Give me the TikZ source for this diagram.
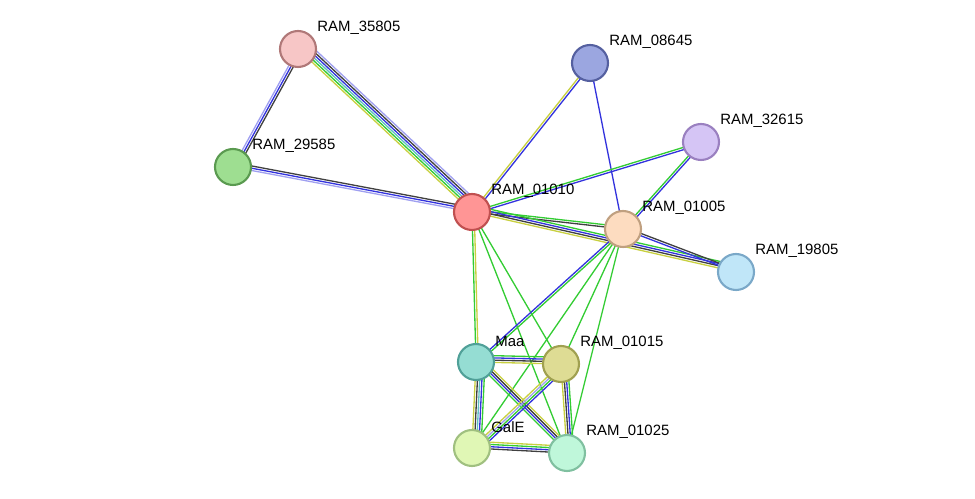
\documentclass[tikz,border=0pt]{standalone}
\usepackage{fontspec}
\setmainfont{Liberation Sans}
\usetikzlibrary{calc}
\definecolor{cBlk}{HTML}{404040}
\definecolor{cBlu}{HTML}{3333DD}
\definecolor{cGrn}{HTML}{33CC33}
\definecolor{cYel}{HTML}{C8D040}
\definecolor{cLav}{HTML}{A0A0F0}
\definecolor{cTea}{HTML}{60C0C0}
\tikzset{prot/.style={circle, minimum size=0.72cm, inner sep=0pt, line width=1.2pt},
  lbl/.style={anchor=west, inner sep=0pt, font=\fontsize{8.5}{10}\selectfont}}
% parallel lines between two nodes, one per colour
\newcommand\links[3]{%
  \foreach \col [count=\k] in {#3} {
    \pgfmathsetmacro\off{0.045*(\k-1)}
    \draw[\col, line width=0.75pt] ($(#1)!\off cm!90:(#2)$) -- ($(#2)!\off cm!-90:(#1)$);
  }}
\begin{document}
\begin{tikzpicture}[x=0.02cm, y=-0.02cm]
  \useasboundingbox (0,0) rectangle (975,499);

  \coordinate (p35805) at (298,49);
  \coordinate (p08645) at (590,63);
  \coordinate (p32615) at (701,142);
  \coordinate (p29585) at (233,167);
  \coordinate (p01010) at (472,212);
  \coordinate (p01005) at (623,229);
  \coordinate (p19805) at (736,272);
  \coordinate (pMaa) at (476,362);
  \coordinate (p01015) at (561,364);
  \coordinate (pGalE) at (472,448);
  \coordinate (p01025) at (567,453);

  % edges
  \links{p35805}{p29585}{cLav,cBlu,cBlk}
  \links{p35805}{p01010}{cYel,cGrn,cTea,cBlu,cBlk,cLav}
  \links{p29585}{p01010}{cLav,cBlu,cBlk}
  \links{p08645}{p01010}{cYel,cBlu}
  \links{p08645}{p01005}{cBlu}
  \links{p32615}{p01010}{cGrn,cBlu}
  \links{p32615}{p01005}{cGrn,cBlu}
  \links{p01010}{p01005}{cBlk,cGrn}
  \links{p01010}{p19805}{cYel,cBlk,cBlu,cGrn}
  \links{p01005}{p19805}{cBlu,cBlk}
  \links{p01010}{pMaa}{cGrn,cYel}
  \links{p01010}{p01015}{cGrn}
  \links{p01010}{p01025}{cGrn}
  \links{p01005}{pMaa}{cBlu,cGrn}
  \links{p01005}{p01015}{cGrn}
  \links{p01005}{pGalE}{cGrn}
  \links{p01005}{p01025}{cGrn}
  \links{pMaa}{p01015}{cYel,cBlk,cBlu,cGrn}
  \links{pMaa}{pGalE}{cYel,cBlk,cTea,cBlu,cGrn}
  \links{pMaa}{p01025}{cGrn,cBlu,cBlk,cYel}
  \links{p01015}{pGalE}{cYel,cLav,cGrn,cBlu}
  \links{p01015}{p01025}{cYel,cBlk,cBlu,cGrn}
  \links{pGalE}{p01025}{cBlk,cBlu,cGrn,cYel}

  % proteins
  \node[prot, fill={rgb,255:red,247;green,198;blue,198}, draw={rgb,255:red,176;green,120;blue,120}] (n35805) at (p35805) {};
  \node[prot, fill={rgb,255:red,155;green,166;blue,224}, draw={rgb,255:red,85;green,96;blue,160}] (n08645) at (p08645) {};
  \node[prot, fill={rgb,255:red,213;green,197;blue,245}, draw={rgb,255:red,154;green,128;blue,192}] (n32615) at (p32615) {};
  \node[prot, fill={rgb,255:red,158;green,222;blue,145}, draw={rgb,255:red,90;green,154;blue,80}] (n29585) at (p29585) {};
  \node[prot, fill={rgb,255:red,255;green,149;blue,149}, draw={rgb,255:red,192;green,80;blue,80}] (n01010) at (p01010) {};
  \node[prot, fill={rgb,255:red,253;green,220;blue,192}, draw={rgb,255:red,192;green,160;blue,128}] (n01005) at (p01005) {};
  \node[prot, fill={rgb,255:red,192;green,230;blue,248}, draw={rgb,255:red,122;green,168;blue,200}] (n19805) at (p19805) {};
  \node[prot, fill={rgb,255:red,149;green,221;blue,211}, draw={rgb,255:red,80;green,160;blue,152}] (nMaa) at (pMaa) {};
  \node[prot, fill={rgb,255:red,222;green,220;blue,148}, draw={rgb,255:red,160;green,160;blue,80}] (n01015) at (p01015) {};
  \node[prot, fill={rgb,255:red,224;green,247;blue,181}, draw={rgb,255:red,160;green,192;blue,128}] (nGalE) at (pGalE) {};
  \node[prot, fill={rgb,255:red,191;green,247;blue,218}, draw={rgb,255:red,128;green,192;blue,160}] (n01025) at (p01025) {};

  % labels
  \node[lbl] (l35805) at ($(p35805)+(19,-21)$) {RAM\_35805};
  \node[lbl] (l08645) at ($(p08645)+(19,-21)$) {RAM\_08645};
  \node[lbl] (l32615) at ($(p32615)+(19,-21)$) {RAM\_32615};
  \node[lbl] (l29585) at ($(p29585)+(19,-21)$) {RAM\_29585};
  \node[lbl] (l01010) at ($(p01010)+(19,-21)$) {RAM\_01010};
  \node[lbl] (l01005) at ($(p01005)+(19,-21)$) {RAM\_01005};
  \node[lbl] (l19805) at ($(p19805)+(19,-21)$) {RAM\_19805};
  \node[lbl] (lMaa) at ($(pMaa)+(19,-21)$) {Maa};
  \node[lbl] (l01015) at ($(p01015)+(19,-21)$) {RAM\_01015};
  \node[lbl] (lGalE) at ($(pGalE)+(19,-21)$) {GalE};
  \node[lbl] (l01025) at ($(p01025)+(19,-21)$) {RAM\_01025};
\end{tikzpicture}
\end{document}
